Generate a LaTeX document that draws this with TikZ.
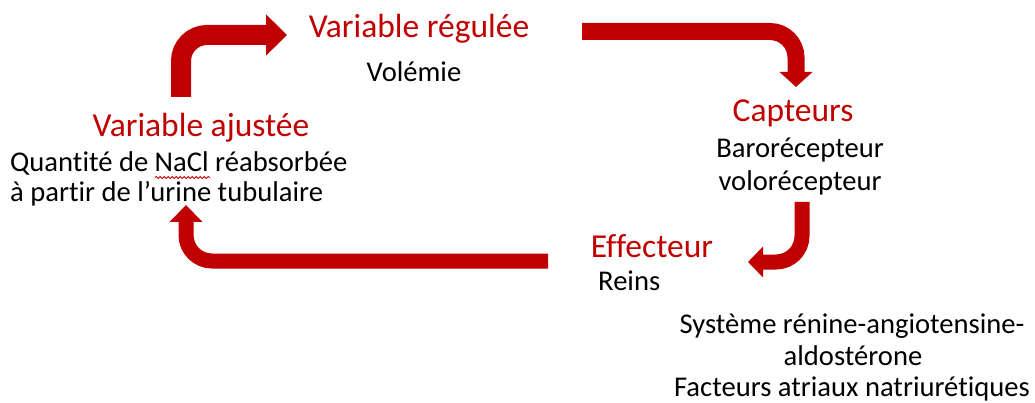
\documentclass[tikz,border=0pt]{standalone}
\usepackage{fontspec}
\setmainfont{Carlito}[RawFeature={-liga;-dlig;-clig}]
\usetikzlibrary{arrows.meta,decorations.pathmorphing}
\definecolor{dred}{HTML}{C00000}
\tikzset{
  redtitle/.style={text=dred,font=\fontsize{33.5}{40}\selectfont,inner sep=0pt,anchor=base},
  bodytext/.style={text=black,font=\fontsize{28.6}{34}\selectfont,inner sep=0pt,anchor=base},
  bigarrow/.style={draw=dred,line cap=butt,rounded corners=26pt},
}
\begin{document}
\begin{tikzpicture}[x=1pt,y=-1pt]
\useasboundingbox (0,0) rectangle (1035,403);
% texts
\node[redtitle] (vr) at (419,38) {Variable régulée};
\node[bodytext] (vol) at (414,82) {Volémie};
\node[redtitle] (cap) at (793,122) {Capteurs};
\node[bodytext] (baro) at (800,158) {Barorécepteur};
\node[bodytext] (volo) at (800,191) {volorécepteur};
\node[redtitle] (eff) at (652,258) {Effecteur};
\node[bodytext,anchor=base west] (reins) at (598,290) {Reins};
\node[bodytext] (sys1) at (852,333) {Système rénine-angiotensine-};
\node[bodytext] (sys2) at (853,365) {aldostérone};
\node[bodytext] (sys3) at (852,396) {Facteurs atriaux natriurétiques};
\node[redtitle] (va) at (201,137) {Variable ajustée};
\node[bodytext,anchor=base west] (q1) at (10,172) {Quantité de NaCl réabsorbée};
\node[bodytext,anchor=base west] (q2) at (10,202) {à partir de l’urine tubulaire};
% spell-check squiggle
\coordinate (sq1) at (155,177.5);
\coordinate (sq2) at (210,177.5);
\draw[dred,line width=0.8pt,decorate,decoration={snake,amplitude=1.1pt,segment length=4pt}] (sq1) -- (sq2);
% arrow coordinates
\coordinate (a1s) at (181,97);
\coordinate (a1c) at (181,35);
\coordinate (a1e) at (287,35);
\coordinate (a2s) at (582,31.5);
\coordinate (a2c) at (796,31.5);
\coordinate (a2e) at (796,87);
\coordinate (a3s) at (802,202);
\coordinate (a3c) at (802,262);
\coordinate (a3e) at (748,262);
\coordinate (a4s) at (548,261);
\coordinate (a4c) at (186,261);
\coordinate (a4e) at (186,205);
\draw[bigarrow,line width=20pt,-{Triangle[width=40pt,length=21pt]}] (a1s) -- (a1c) -- (a1e);
\draw[bigarrow,line width=17pt,-{Triangle[width=32pt,length=15pt]}] (a2s) -- (a2c) -- (a2e);
\draw[bigarrow,line width=15pt,-{Triangle[width=30pt,length=15pt]}] (a3s) -- (a3c) -- (a3e);
\draw[bigarrow,line width=15pt,-{Triangle[width=32pt,length=17pt]}] (a4s) -- (a4c) -- (a4e);
\end{tikzpicture}
\end{document}
